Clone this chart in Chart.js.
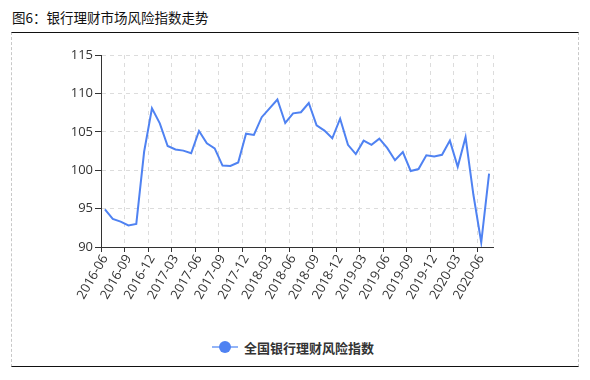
<!DOCTYPE html>
<html>
<head>
<meta charset="utf-8">
<script src="https://cdn.jsdelivr.net/npm/chart.js@4"></script>
<style>
  body { margin: 0; background: #fff; font-family: "Noto Sans CJK SC", "Open Sans", sans-serif; }
  #wrap { position: relative; width: 590px; height: 380px; }
  #title { position: absolute; left: 12px; top: 7px; font-size: 13.5px; color: #111; }
  #box { position: absolute; left: 11px; top: 32px; width: 566px; height: 333px;
         border-top: 1.5px solid #111; border-bottom: 1.5px solid #111;
         border-left: 1px dashed #c8c8c8; border-right: 1px dashed #c8c8c8; }
  #chartBox { position: absolute; left: 12px; top: 34px; width: 565px; height: 286px; }
  #legend { position: absolute; left: 212px; top: 338px; height: 18px; display: flex; align-items: center; }
  #legend .mark { position: relative; width: 26px; height: 18px; margin-right: 6px; }
  #legend .mark .ln { position: absolute; left: 0; top: 8px; width: 26px; height: 2px; background: #93b4f7; }
  #legend .mark .dot { position: absolute; left: 7px; top: 3px; width: 12px; height: 12px; border-radius: 50%; background: #4f82f2; }
  #legend .txt { font-size: 13px; font-weight: bold; color: #333; }
</style>
</head>
<body>
<div id="wrap">
  <div id="title">图6：银行理财市场风险指数走势</div>
  <div id="box"></div>
  <div id="chartBox"><canvas id="riskChart"></canvas></div>
  <div id="legend">
    <div class="mark"><div class="ln"></div><div class="dot"></div></div>
    <div class="txt">全国银行理财风险指数</div>
  </div>
</div>
<script>
// --- DATA ---
const months = [
  '2016-06', '2016-07', '2016-08', '2016-09', '2016-10', '2016-11', '2016-12',
  '2017-01', '2017-02', '2017-03', '2017-04', '2017-05', '2017-06', '2017-07', '2017-08', '2017-09', '2017-10', '2017-11', '2017-12',
  '2018-01', '2018-02', '2018-03', '2018-04', '2018-05', '2018-06', '2018-07', '2018-08', '2018-09', '2018-10', '2018-11', '2018-12',
  '2019-01', '2019-02', '2019-03', '2019-04', '2019-05', '2019-06', '2019-07', '2019-08', '2019-09', '2019-10', '2019-11', '2019-12',
  '2020-01', '2020-02', '2020-03', '2020-04', '2020-05', '2020-06', '2020-07'
];
const riskIndex = [
  94.9, 93.65, 93.3, 92.8, 93.0, 102.4, 108.05,
  106.1, 103.15, 102.7, 102.55, 102.2, 105.1, 103.5, 102.85, 100.6, 100.55, 101.0, 104.75,
  104.6, 106.9, 108.05, 109.2, 106.15, 107.4, 107.55, 108.75, 105.85, 105.15, 104.15, 106.7,
  103.3, 102.1, 103.85, 103.3, 104.1, 102.9, 101.3, 102.35, 99.9, 100.15, 101.95, 101.8,
  102.0, 103.85, 100.45, 104.3, 96.8, 90.6, 99.55
];
const yTicks = [90, 95, 100, 105, 110, 115];
const seriesName = '全国银行理财风险指数';

const gridColor = '#dcdcdc';
const axisColor = '#333';
const tickFont = { family: '"Open Sans", "Noto Sans CJK SC", sans-serif', size: 13 };

// every 3rd month gets a label and a grid line
const showTick = (i) => i % 3 === 0;

new Chart(document.getElementById('riskChart'), {
  type: 'line',
  data: {
    labels: months,
    datasets: [{
      label: seriesName,
      data: riskIndex,
      borderColor: '#4f82f2',
      borderWidth: 2,
      pointRadius: 0,
      tension: 0,
      fill: false
    }]
  },
  options: {
    responsive: true,
    maintainAspectRatio: false,
    animation: false,
    layout: { padding: { top: 21, right: 84, left: 0, bottom: 0 } },
    plugins: { legend: { display: false }, tooltip: { enabled: false } },
    scales: {
      x: {
        offset: true,
        afterFit: (scale) => { scale.height = 73; },
        grid: {
          offset: true,
          color: (ctx) => (ctx.index === undefined || showTick(ctx.index) ? gridColor : 'transparent'),
          tickColor: (ctx) => (ctx.index !== undefined && showTick(ctx.index) ? axisColor : 'transparent'),
          tickLength: 5
        },
        border: { color: axisColor, width: 1, dash: [4, 4] },
        ticks: {
          autoSkip: false,
          maxRotation: 60,
          minRotation: 60,
          padding: 0,
          color: axisColor,
          font: tickFont,
          callback: function (value, index) {
            return showTick(index) ? this.getLabelForValue(value) : '';
          }
        }
      },
      y: {
        min: 90,
        max: 115,
        afterFit: (scale) => { scale.width = 89; },
        afterBuildTicks: (scale) => { scale.ticks = yTicks.map((v) => ({ value: v })); },
        grid: { color: gridColor, tickColor: axisColor, tickLength: 6 },
        border: { color: axisColor, width: 1, dash: [4, 4] },
        ticks: {
          padding: 2,
          color: axisColor,
          font: { family: tickFont.family, size: 13 }
        }
      }
    }
  }
});
</script>
</body>
</html>
